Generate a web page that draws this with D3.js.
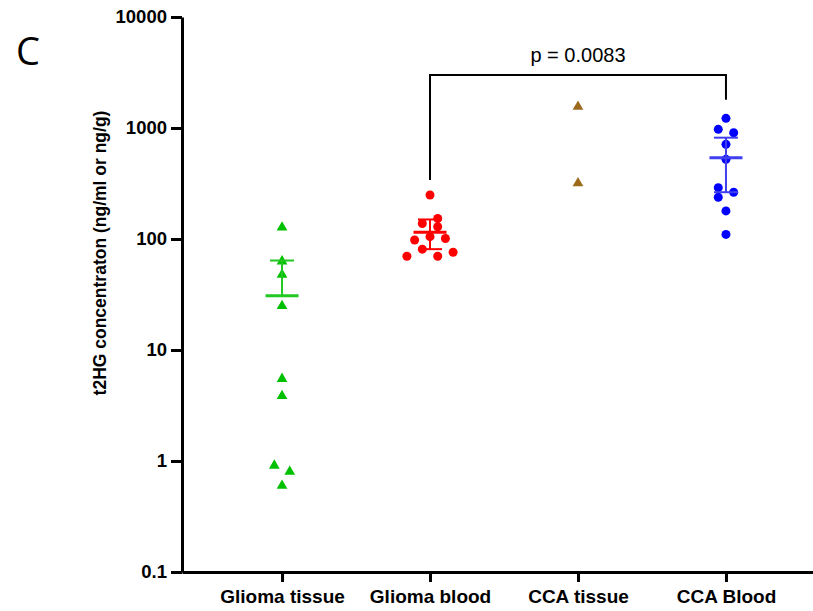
<!DOCTYPE html>
<html>
<head>
<meta charset="utf-8">
<script src="https://cdn.jsdelivr.net/npm/d3@7"></script>
<style>
  body { margin: 0; background: #fff; }
  svg { display: block; font-family: "Liberation Sans", Arial, sans-serif; }
  .axis path, .axis line { stroke: #000; stroke-width: 3; }
  .axis text { font-weight: bold; fill: #000; }
</style>
</head>
<body>
<div id="chart"></div>
<script>
// groups on the x axis
var groups = ["Glioma tissue", "Glioma blood", "CCA tissue", "CCA Blood"];

// individual values (ng/ml or ng/g)
var gliomaTissue = [127, 63, 47.7, 24.9, 5.5, 3.85, 0.91, 0.80, 0.60];
var gliomaBlood  = [249, 153, 138, 129, 105, 98, 101, 81, 70, 70, 76];
var ccaTissue    = [1556, 318];
var ccaBlood     = [1222, 973, 907, 713, 522, 290, 264, 238, 179, 110];

// column slot of each point in the scatter (GraphPad style spread)
var gliomaTissueSlot = [0, 0, 0, 0, 0, 0, -1, 1, 0];
var gliomaBloodSlot  = [0, 1, -1, 1, 0, -2, 2, -1, -3, 1, 3];
var ccaTissueSlot    = [0, 0];
var ccaBloodSlot     = [0, -1, 1, 0, 0, -1, 1, -1, 0, 0];

// mean and 95% CI per group (null = not drawn)
var means  = [30.8, 115, null, 540];
var ciHigh = [64, 150, null, 818];
var ciLow  = [null, 81, null, 264];

var yTicks = [0.1, 1, 10, 100, 1000, 10000];

// significance bracket Glioma blood vs CCA Blood
var bracketTop = 3000, bracketLegs = [340, 1800];
var pLabel = "p = 0.0083";

var width = 813, height = 611;
var margin = {top: 17, left: 182, bottom: 39};

var svg = d3.select("#chart").append("svg")
    .attr("width", width)
    .attr("height", height);

var y = d3.scaleLog()
    .domain([0.1, 10000])
    .range([height - margin.bottom, margin.top]);

var x = d3.scalePoint()
    .domain(groups)
    .range([margin.left, 826])
    .padding(0.676);

var series = [
    {name: groups[0], values: gliomaTissue, slots: gliomaTissueSlot, color: "#00c000", bar: "#22c822", shape: "tri"},
    {name: groups[1], values: gliomaBlood, slots: gliomaBloodSlot, color: "#ff0000", bar: "#ff0000", shape: "dot"},
    {name: groups[2], values: ccaTissue, slots: ccaTissueSlot, color: "#9c6a1c", bar: "#9c6a1c", shape: "tri"},
    {name: groups[3], values: ccaBlood, slots: ccaBloodSlot, color: "#0000ff", bar: "#3f3ff0", shape: "dot"}
];
var slotW = 7.7;

// axes
svg.append("g")
    .attr("class", "axis")
    .attr("transform", "translate(" + margin.left + ",0)")
    .call(d3.axisLeft(y).tickValues(yTicks).tickFormat(function(d) { return d; })
        .tickSize(11).tickSizeOuter(0).tickPadding(4))
    .selectAll("text").style("font-size", "18.5px");

svg.append("g")
    .attr("class", "axis")
    .attr("transform", "translate(0," + y(0.1) + ")")
    .call(d3.axisBottom(x).tickSize(10).tickSizeOuter(0).tickPadding(8))
    .selectAll("text").style("font-size", "19px");

// y axis title
svg.append("text")
    .attr("transform", "translate(106,253) rotate(-90)")
    .attr("text-anchor", "middle")
    .style("font-size", "17.5px")
    .style("font-weight", "bold")
    .text("t2HG concentraton (ng/ml or ng/g)");

// panel letter
svg.append("text")
    .attr("x", 16).attr("y", 65)
    .style("font-family", "'Open Sans', sans-serif")
    .style("font-size", "38px")
    .text("C");

// points
series.forEach(function(s) {
    var g = svg.append("g");
    s.values.forEach(function(v, i) {
        var cx = x(s.name) + s.slots[i] * slotW, cy = y(v);
        if (s.shape == "dot") {
            g.append("circle")
                .attr("cx", cx).attr("cy", cy).attr("r", 4.5)
                .attr("fill", s.color);
        } else {
            g.append("path")
                .attr("d", d3.symbol(d3.symbolTriangle, 50)())
                .attr("transform", "translate(" + cx + "," + cy + ")")
                .attr("fill", s.color);
        }
    });
});

// mean + CI bars
series.forEach(function(s, i) {
    if (means[i] == null) return;
    var cx = x(s.name);
    var g = svg.append("g").attr("stroke", s.bar);
    g.append("line")
        .attr("x1", cx - 16.5).attr("x2", cx + 16.5)
        .attr("y1", y(means[i])).attr("y2", y(means[i]))
        .attr("stroke-width", 3);
    var lo = ciLow[i] == null ? means[i] : ciLow[i];
    g.append("line")
        .attr("x1", cx).attr("x2", cx)
        .attr("y1", y(ciHigh[i])).attr("y2", y(lo))
        .attr("stroke-width", 2);
    [ciHigh[i], ciLow[i]].forEach(function(c) {
        if (c == null) return;
        g.append("line")
            .attr("x1", cx - 12).attr("x2", cx + 12)
            .attr("y1", y(c)).attr("y2", y(c))
            .attr("stroke-width", 2);
    });
});

// significance bracket
var bx1 = x(groups[1]), bx2 = x(groups[3]);
svg.append("path")
    .attr("d", d3.line()([[bx1, y(bracketLegs[0])], [bx1, y(bracketTop)], [bx2, y(bracketTop)], [bx2, y(bracketLegs[1])]]))
    .attr("fill", "none")
    .attr("stroke", "#000")
    .attr("stroke-width", 2);

svg.append("text")
    .attr("x", (bx1 + bx2) / 2)
    .attr("y", y(bracketTop) - 13)
    .attr("text-anchor", "middle")
    .style("font-size", "20px")
    .text(pLabel);
</script>
</body>
</html>
